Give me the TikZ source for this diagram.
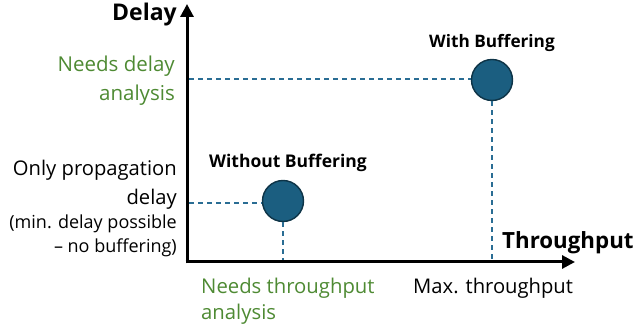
\documentclass[tikz,border=0pt]{standalone}
\usepackage{fontspec}
\setmainfont{Open Sans}
\usetikzlibrary{arrows.meta}
\definecolor{dotblue}{HTML}{1B5E80}
\definecolor{dotedge}{HTML}{0E3447}
\definecolor{dashblue}{HTML}{2A6D94}
\definecolor{needgreen}{HTML}{4E8A33}
\begin{document}
\begin{tikzpicture}[x=1pt,y=-1pt,
  axis/.style={line width=3pt,-{Triangle[length=13pt,width=13pt]}},
  guide/.style={dashblue,line width=1.1pt,dash pattern=on 5pt off 4pt},
  dot/.style={circle,fill=dotblue,draw=dotedge,line width=1.4pt,minimum size=41pt,inner sep=0pt},
  inner sep=0pt]
\useasboundingbox (0,0) rectangle (633,328);
\coordinate (O) at (187,262);
\coordinate (ytip) at (187,4);
\coordinate (xtip) at (575,262);
\draw[axis] (O) ++(0,1.5) -- (ytip);
\draw[axis] (O) ++(-1.5,0) -- (xtip);
\node[font=\bfseries\fontsize{23}{26}\selectfont,anchor=east] (ylab) at (177,15) {Delay};
\node[font=\bfseries\fontsize{22.3}{26}\selectfont,anchor=west] (xlab) at (502,243) {Throughput};
\node[dot] (c2) at (492,80) {};
\node[dot] (c1) at (283,201) {};
\node[font=\bfseries\fontsize{17.2}{20}\selectfont] (l2) at (492,43) {With Buffering};
\node[font=\bfseries\fontsize{17.5}{20}\selectfont] (l1) at (288,163) {Without Buffering};
\coordinate (y2) at (189,79);
\coordinate (y1) at (189,203);
\coordinate (x2) at (492,260);
\coordinate (x1) at (283,260);
\draw[guide] (y2) -- (y2 -| c2.west);
\draw[guide] (c2.south) -- (x2);
\draw[guide] (y1) -- (y1 -| c1.west);
\draw[guide] (c1.south) -- (x1);
\node[text=needgreen,font=\fontsize{20.5}{29}\selectfont,anchor=east,align=right] (nd) at (175,81) {Needs delay\\analysis};
\node[font=\fontsize{20.2}{29}\selectfont,anchor=east,align=right] (op) at (177,185) {Only propagation\\delay};
\node[font=\fontsize{18}{24}\selectfont,anchor=east,align=right] (mn) at (177,236) {(min. delay possible\\– no buffering)};
\node[text=needgreen,font=\fontsize{20.3}{26}\selectfont,anchor=west,align=left] (nt) at (201,301) {Needs throughput\\analysis};
\node[font=\fontsize{20.2}{24}\selectfont,anchor=west] (mt) at (413,288) {Max. throughput};
\end{tikzpicture}
\end{document}
